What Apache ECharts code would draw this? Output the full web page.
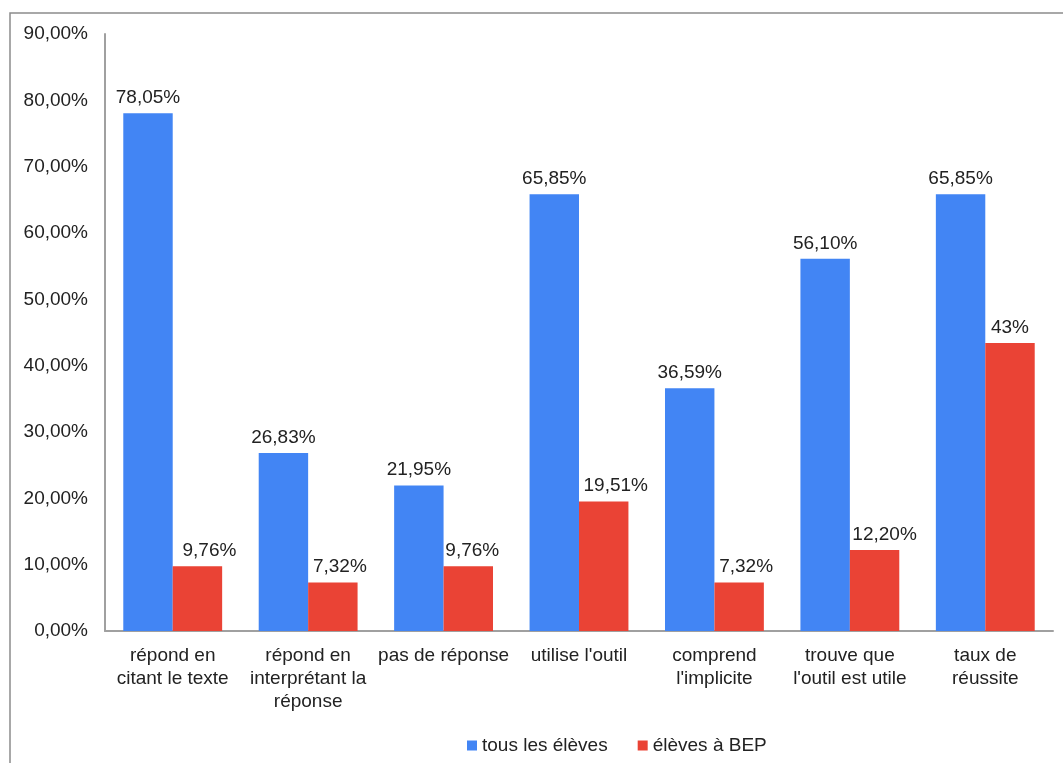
<!DOCTYPE html>
<html>
<head>
<meta charset="utf-8">
<script src="https://cdn.jsdelivr.net/npm/echarts@6/dist/echarts.min.js"></script>
<style>
html,body{margin:0;padding:0;background:#fff;}
#chart{width:1063px;height:763px;}
</style>
</head>
<body>
<div id="chart"></div>
<script>
const categories = [
  "répond en\ncitant le texte",
  "répond en\ninterprétant la\nréponse",
  "pas de réponse",
  "utilise l'outil",
  "comprend\nl'implicite",
  "trouve que\nl'outil est utile",
  "taux de\nréussite"
];
const seriesNames = ["tous les élèves", "élèves à BEP"];
const tousValues = [78.05, 26.83, 21.95, 65.85, 36.59, 56.10, 65.85];
const tousLabels = ["78,05%", "26,83%", "21,95%", "65,85%", "36,59%", "56,10%", "65,85%"];
const bepValues = [9.76, 7.32, 9.76, 19.51, 7.32, 12.20, 43.4];
const bepLabels = ["9,76%", "7,32%", "9,76%", "19,51%", "7,32%", "12,20%", "43%"];
const yTicks = [0, 10, 20, 30, 40, 50, 60, 70, 80, 90];

// label horizontal nudges (style only, px)
const bepLabelShift = [12, 7, 4, 12, 7, 10, 0];

const chart = echarts.init(document.getElementById('chart'), null, {renderer: 'canvas'});
const font = 'Liberation Sans, Arial, sans-serif';
const fs = 19;
chart.setOption({
  animation: false,
  backgroundColor: '#fff',
  textStyle: {fontFamily: font},
  graphic: [{
    type: 'rect',
    shape: {x: 10, y: 13, width: 1100, height: 800},
    style: {fill: 'none', stroke: '#8c8c8c', lineWidth: 1.5},
    silent: true
  }],
  grid: {left: 105, right: 10, top: 34, bottom: 132, containLabel: false},
  legend: {
    left: 462, top: 731,
    itemWidth: 10, itemHeight: 10, itemGap: 30,
    icon: 'rect',
    textStyle: {fontFamily: font, fontSize: fs, color: '#222', padding: [0, 0, 0, 0]},
    data: seriesNames
  },
  xAxis: {
    type: 'category',
    data: categories,
    axisLine: {show: true, lineStyle: {color: '#a0a0a0', width: 2}},
    axisTick: {show: false},
    axisLabel: {fontFamily: font, fontSize: fs, color: '#222', lineHeight: 23, margin: 13, interval: 0}
  },
  yAxis: {
    type: 'value',
    min: yTicks[0], max: yTicks[yTicks.length - 1], interval: 10,
    axisLine: {show: true, lineStyle: {color: '#a0a0a0', width: 2}},
    axisTick: {show: false},
    splitLine: {show: false},
    axisLabel: {
      fontFamily: font, fontSize: fs, color: '#222', margin: 17,
      formatter: v => v.toFixed(2).replace('.', ',') + '%'
    }
  },
  series: [
    {
      name: seriesNames[0], type: 'bar', data: tousValues,
      itemStyle: {color: '#4285f4'},
      barGap: '0%', barCategoryGap: '27%',
      label: {show: true, position: 'top', distance: 6, fontFamily: font, fontSize: fs, color: '#222',
        formatter: p => tousLabels[p.dataIndex]}
    },
    {
      name: seriesNames[1], type: 'bar',
      data: bepValues.map((v, i) => ({value: v, label: {offset: [bepLabelShift[i], 0]}})),
      itemStyle: {color: '#ea4335'},
      barGap: '0%', barCategoryGap: '27%',
      label: {show: true, position: 'top', distance: 6, fontFamily: font, fontSize: fs, color: '#222',
        formatter: p => bepLabels[p.dataIndex]}
    }
  ]
});
</script>
</body>
</html>
